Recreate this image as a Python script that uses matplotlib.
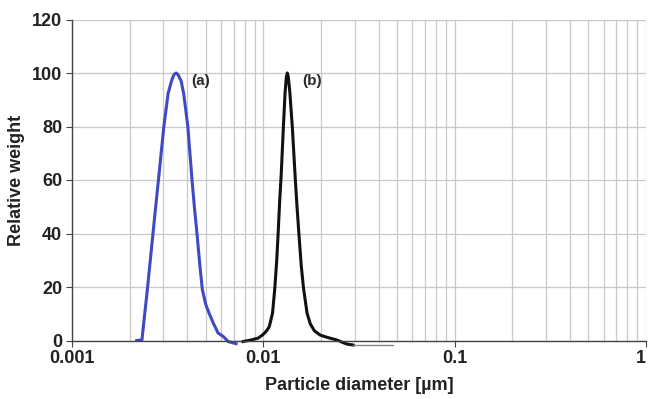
import matplotlib
matplotlib.use('Agg')
import matplotlib.pyplot as plt
from matplotlib.ticker import FixedLocator, LogLocator, NullFormatter

# curve (a), blue
a_diam = [0.00218, 0.00232, 0.00248, 0.00265, 0.00276, 0.00283, 0.00302,
          0.00318, 0.00333, 0.00342, 0.00350, 0.00358, 0.00372, 0.00384,
          0.00403, 0.00424, 0.00436, 0.00450, 0.00466, 0.00480, 0.00500,
          0.00522, 0.00550, 0.00580, 0.00620, 0.00655, 0.00720]
a_weight = [0.0, 0.2, 19.5, 40.0, 52.5, 60.0, 80.0,
            92.4, 97.6, 99.5, 100.0, 99.4, 97.0, 92.0,
            80.0, 60.0, 50.0, 40.0, 28.0, 19.0, 13.5,
            10.0, 6.2, 2.8, 1.4, -0.4, -1.2]

# curve (b), black
b_diam = [0.00782, 0.00863, 0.00940, 0.00992, 0.01040, 0.01074, 0.01117,
          0.01148, 0.01175, 0.01195, 0.01218, 0.01240, 0.01273, 0.01300,
          0.01320, 0.01335, 0.01350, 0.01375, 0.01417, 0.01470, 0.01500,
          0.01534, 0.01578, 0.01622, 0.01693, 0.01760, 0.01850, 0.01984,
          0.0215, 0.0242, 0.0272, 0.0295]
b_weight = [-0.4, 0.2, 0.9, 2.1, 3.6, 5.2, 10.2,
            19.5, 30.0, 40.0, 52.5, 62.0, 80.0, 93.0,
            98.6, 100.0, 98.6, 93.0, 80.0, 60.0, 50.0,
            40.0, 28.0, 19.5, 10.2, 6.2, 3.6, 2.0,
            1.2, 0.2, -1.3, -1.7]

tail_diam = [0.0295, 0.0475]
tail_weight = [-1.7, -1.7]

y_ticks = [0, 20, 40, 60, 80, 100, 120]
x_ticks = [0.001, 0.01, 0.1, 1]
x_labels = ['0.001', '0.01', '0.1', '1']

plt.rcParams['font.family'] = ['Liberation Sans', 'DejaVu Sans']

fig = plt.figure(figsize=(6.48, 3.99), dpi=100)
ax = fig.add_axes([72 / 648, 1 - 340.5 / 399, 574 / 648, 321 / 399])

ax.set_xscale('log')
ax.set_xlim(0.001, 1)
ax.set_ylim(0, 120)

ax.xaxis.set_major_locator(FixedLocator(x_ticks))
ax.set_xticklabels(x_labels)
ax.xaxis.set_minor_locator(LogLocator(base=10, subs=range(2, 10)))
ax.xaxis.set_minor_formatter(NullFormatter())
ax.set_yticks(y_ticks)

ax.grid(True, which='both', axis='x', color='#c8c8c8', lw=0.9)
ax.grid(True, which='major', axis='y', color='#c8c8c8', lw=0.9)
ax.set_axisbelow(True)

for s in ['top', 'right']:
    ax.spines[s].set_visible(False)
for s in ['left', 'bottom']:
    ax.spines[s].set_color('#444444')
    ax.spines[s].set_linewidth(1.0)

ax.tick_params(axis='both', which='major', length=4, width=0.8,
               color='#444444', labelsize=13, pad=3)
ax.tick_params(axis='x', which='minor', length=0)
for lab in ax.get_xticklabels() + ax.get_yticklabels():
    lab.set_fontweight('bold')
    lab.set_color('#222222')
# the last label sits right at the figure edge
ax.get_xticklabels()[-1].set_horizontalalignment('right')

ax.plot(a_diam, a_weight, color='#3f4ac2', lw=2.2, clip_on=False,
        solid_joinstyle='round')
ax.plot(b_diam, b_weight, color='#111111', lw=2.2, clip_on=False,
        solid_joinstyle='round')
ax.plot(tail_diam, tail_weight, color='#888888', lw=1.0, clip_on=False)

ax.text(0.00421, 97, '(a)', fontsize=11, fontweight='bold',
        color='#2a2a2a', va='center', ha='left')
ax.text(0.0160, 97, '(b)', fontsize=11, fontweight='bold',
        color='#2a2a2a', va='center', ha='left')

ax.set_xlabel('Particle diameter [µm]', fontsize=13, fontweight='bold',
              color='#222222', labelpad=7)
ax.set_ylabel('Relative weight', fontsize=13, fontweight='bold',
              color='#222222', labelpad=5)

fig.savefig('out.png', dpi=100)
